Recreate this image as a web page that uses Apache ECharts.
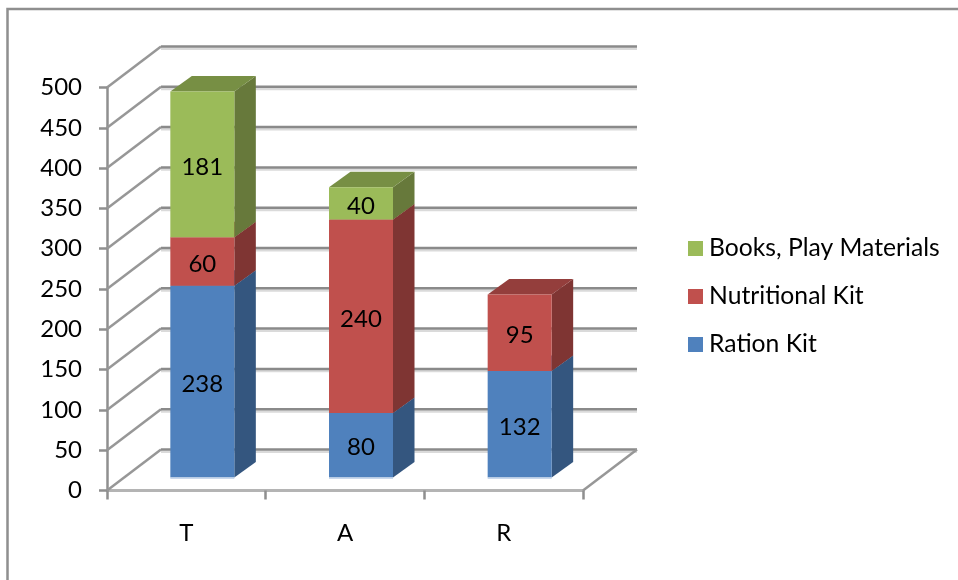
<!DOCTYPE html>
<html>
<head>
<meta charset="utf-8">
<style>html,body{margin:0;padding:0;background:#fff}#c{width:958px;height:580px}</style>
<script src="https://cdn.jsdelivr.net/npm/echarts@6/dist/echarts.min.js"></script>
</head>
<body>
<div id="c"></div>
<script>
var categories = ['T', 'A', 'R'];
var rationKit = [238, 80, 132];
var nutritionalKit = [60, 240, 95];
var booksPlay = [181, 40, null];
var yTicks = [0, 50, 100, 150, 200, 250, 300, 350, 400, 450, 500];

var FONT = 'Lato';
var WALL = {dx: 54, dy: -41};
var BAR = {dx: 16, dy: -13, half: 32, sdx: 21.5, sdy: -15.5};
var GRID_C = '#8a8a8a', GRID_S = '#dadada';

var chart = echarts.init(document.getElementById('c'), null, {renderer: 'canvas'});

function stacked(values, below) {
  return values.map(function (v, i) {
    var base = below.reduce(function (s, arr) { return s + (arr[i] || 0); }, 0);
    return [i, base, v];
  });
}

function barSeries(name, values, below, colors, extra) {
  return {
    name: name, type: 'custom', clip: false, z: 5 + (extra || 0),
    itemStyle: {color: colors.front},
    data: stacked(values, below),
    encode: {x: 0, y: 2},
    renderItem: function (params, api) {
      var v = api.value(2);
      if (v == null || isNaN(v)) return null;
      var cat = api.value(0), base = api.value(1);
      var p0 = api.coord([cat, base]), p1 = api.coord([cat, base + v]);
      var cx = p0[0] + BAR.dx, l = cx - BAR.half, r = cx + BAR.half;
      var b = p0[1] + BAR.dy, t = p1[1] + BAR.dy;
      var children = [
        {type: 'polygon', shape: {points: [[r, b], [r + BAR.sdx, b + BAR.sdy], [r + BAR.sdx, t + BAR.sdy], [r, t]]}, style: {fill: colors.side}},
        {type: 'polygon', shape: {points: [[l, t], [r, t], [r + BAR.sdx, t + BAR.sdy], [l + BAR.sdx, t + BAR.sdy]]}, style: {fill: colors.top}},
        {type: 'rect', shape: {x: l, y: t, width: r - l, height: b - t}, style: {fill: colors.front}}
      ];
      if (base === 0) {
        children.push({type: 'rect', shape: {x: l, y: b, width: r - l, height: 1.5}, style: {fill: '#c9d8ec'}});
      }
      children.push({type: 'text', style: {text: String(v), x: cx, y: (t + b) / 2 + 2.5, align: 'center', verticalAlign: 'middle', fill: '#000', font: '24px ' + FONT}});
      return {type: 'group', children: children};
    }
  };
}

var wallSeries = {
  type: 'custom', clip: false, z: 1, silent: true,
  legendHoverLink: false,
  data: yTicks.map(function (t) { return [0, t]; }),
  encode: {x: 0, y: 1},
  renderItem: function (params, api) {
    var t = api.value(1);
    var a = api.coord([0, t]);
    var left = a[0] - api.size([1, 0])[0] / 2;
    var right = left + api.size([1, 0])[0] * categories.length;
    var y = a[1];
    var backL = [left + WALL.dx, y + WALL.dy], backR = [right + WALL.dx, y + WALL.dy];
    var children = [
      {type: 'line', shape: {x1: backL[0], y1: backL[1] + 2.2, x2: backR[0], y2: backR[1] + 2.2}, style: {stroke: GRID_S, lineWidth: 2.5}},
      {type: 'line', shape: {x1: backL[0], y1: backL[1], x2: backR[0], y2: backR[1]}, style: {stroke: GRID_C, lineWidth: 2.5}},
      {type: 'line', shape: {x1: left, y1: y, x2: backL[0], y2: backL[1]}, style: {stroke: '#979797', lineWidth: 2.5}}
    ];
    if (t === 0) {
      children.push({type: 'line', shape: {x1: right, y1: y, x2: backR[0], y2: backR[1]}, style: {stroke: '#979797', lineWidth: 2.5}});
    }
    return {type: 'group', children: children};
  }
};

var legendNames = ['Books, Play Materials', 'Nutritional Kit', 'Ration Kit'];

chart.setOption({
  animation: false,
  backgroundColor: '#fff',
  textStyle: {fontFamily: FONT},
  grid: {left: 107, right: 375, top: 87.5, bottom: 89.5, containLabel: false},
  xAxis: {
    type: 'category', data: categories,
    axisLine: {show: true, lineStyle: {color: '#b4b4b4', width: 3}},
    axisTick: {show: true, alignWithLabel: false, length: 9, lineStyle: {color: '#8f8f8f', width: 2.5}},
    axisLabel: {color: '#000', fontSize: 24, fontFamily: FONT, margin: 31},
    splitLine: {show: false}
  },
  yAxis: {
    type: 'value', min: 0, max: 500, interval: 50,
    axisLine: {show: true, lineStyle: {color: '#8f8f8f', width: 2.5}},
    axisTick: {show: true, length: 8, lineStyle: {color: '#8f8f8f', width: 2.5}},
    axisLabel: {color: '#000', fontSize: 24, fontFamily: FONT, margin: 25, padding: [2, 0, 0, 0]},
    splitLine: {show: false}
  },
  legend: {
    orient: 'vertical', left: 688, top: 236, padding: 0, icon: 'rect',
    itemWidth: 15, itemHeight: 15, itemGap: 23,
    data: legendNames,
    selectedMode: false,
    textStyle: {color: '#000', fontSize: 24.7, fontFamily: FONT, padding: [0, 0, 0, 1]}
  },
  graphic: [{
    type: 'polyline', silent: true, z: 0,
    shape: {points: [[7.5, 580], [7.5, 9], [958, 9]]},
    style: {stroke: '#8f8f8f', fill: null, lineWidth: 2.5}
  }],
  series: [
    wallSeries,
    barSeries('Ration Kit', rationKit, [], {front: '#4f81bd', side: '#34567f', top: '#3f6797'}, 0),
    barSeries('Nutritional Kit', nutritionalKit, [rationKit], {front: '#c0504d', side: '#7f3533', top: '#943e3c'}, 1),
    barSeries('Books, Play Materials', booksPlay, [rationKit, nutritionalKit], {front: '#9bbb59', side: '#67793b', top: '#778f44'}, 2)
  ]
});
</script>
</body>
</html>
